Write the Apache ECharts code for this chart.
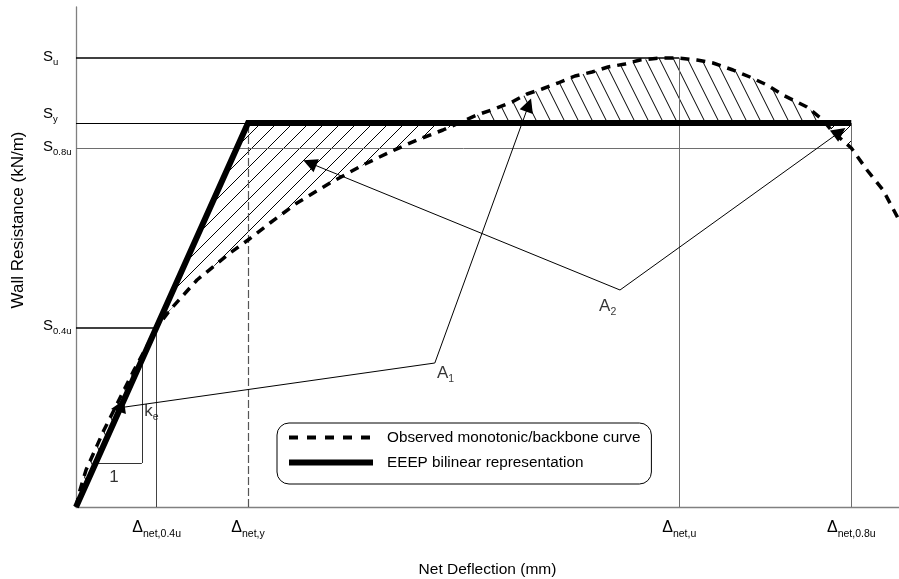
<!DOCTYPE html>
<html>
<head>
<meta charset="utf-8">
<script src="https://cdn.jsdelivr.net/npm/echarts@6/dist/echarts.min.js"></script>
<style>
html, body { margin: 0; padding: 0; background: #fff; }
#chart { width: 899px; height: 579px; }
</style>
</head>
<body>
<div id="chart"></div>
<script>
var FONT = '"Liberation Sans", Arial, sans-serif';

// key points of the schematic (deflection 0-100, resistance 0-100)
var dNet04 = 9.8, dNetY = 20.9, dNetU = 73.3, dNet08 = 94.2;
var sU = 89.8, sY = 76.8, s08 = 71.8, s04 = 35.9;

// observed monotonic / backbone curve
var curveX = [0, 0.49, 1.22, 2.31, 3.40, 4.62, 5.83, 7.05, 8.38, 9.8,
  11.42, 14.70, 18.71, 20.90, 23.57, 26.85, 30.86, 34.87, 38.15, 41.43,
  44.59, 48.72, 51.15, 52.98, 54.80, 56.62, 58.57, 60.63, 62.70, 64.64,
  66.71, 68.53, 70.96, 73.3, 75.46, 77.40, 79.83, 81.89, 83.96, 85.90,
  88.82, 90.76, 91.98, 94.2, 96.11, 98.06, 100];
var curveY = [0, 3.4, 7.4, 11.4, 15.4, 19.4, 23.4, 27.4, 31.4, 35.9,
  39.4, 45.4, 50.8, 53.4, 56.8, 60.8, 64.8, 68.4, 71.0, 73.4,
  75.4, 78.4, 79.8, 81.0, 82.6, 83.6, 84.8, 86.2, 87.0, 88.0,
  88.6, 89.4, 89.8, 89.8, 89.4, 88.8, 87.4, 86.0, 84.4, 82.4,
  80.0, 77.4, 75.0, 71.8, 67.4, 63.4, 57.4];

// EEEP bilinear
var eeepX = [0, dNetY, dNet08];
var eeepY = [0, sY, sY];

// tick labels
var xTicks = [dNet04, dNetY, dNetU, dNet08];
var xTickLabels = ['{d|\u0394}{s|net,0.4u}', '{d|\u0394}{s|net,y}', '{d|\u0394}{s|net,u}', '{d|\u0394}{s|net,0.8u}'];
var yTicks = [s04, s08, sY, sU];
var yTickLabels = ['{S|S}{s|0.4u}', '{S|S}{s|0.8u}', '{S2|S}{s2|y}', '{S|S}{s|u}'];

// annotations and arrows
var noteX = [44.9, 64.6, 8.3, 4.6];
var noteY = [26.4, 39.8, 18.8, 5.6];
var noteText = ['{A|A}{s|1}', '{A|A}{s|2}', '{A|k}{s|e}', '{A|1}'];
var noteAlign = ['center', 'center', 'left', 'center'];
var arrowFrom = [[43.6, 28.8], [43.6, 28.8], [66.1, 43.4], [66.1, 43.4]];
var arrowTo = [[5.1, 19.8], [55.0, 80.4], [28.4, 68.8], [92.8, 75.0]];

// stiffness triangle
var triBaseY = 8.8, triRightX = 8.0;

var slope = sY / dNetY;

function interp(xs, ys, x) {
  for (var i = 0; i < xs.length - 1; i++) {
    if (x >= xs[i] && x <= xs[i + 1]) {
      var t = (x - xs[i]) / (xs[i + 1] - xs[i]);
      return ys[i] + t * (ys[i + 1] - ys[i]);
    }
  }
  return ys[ys.length - 1];
}

// where the curve crosses the plateau
function crossings() {
  var res = [];
  for (var i = 0; i < curveX.length - 1; i++) {
    if (curveX[i] < dNetY) continue;
    var a = curveY[i] - sY, b = curveY[i + 1] - sY;
    if ((a < 0 && b >= 0) || (a >= 0 && b < 0)) {
      res.push(curveX[i] + (curveX[i + 1] - curveX[i]) * (-a) / (b - a));
    }
  }
  return res;
}

function regionPoly(xa, xb) {
  var pts = [[xa, interp(curveX, curveY, xa)]];
  for (var i = 0; i < curveX.length; i++) {
    if (curveX[i] > xa && curveX[i] < xb) pts.push([curveX[i], curveY[i]]);
  }
  pts.push([xb, interp(curveX, curveY, xb)]);
  pts.push([xb, interp(eeepX, eeepY, xb)]);
  if (dNetY > xa && dNetY < xb) pts.push([dNetY, sY]);
  pts.push([xa, interp(eeepX, eeepY, xa)]);
  return pts;
}

function hatch(w, h, back) {
  var c = document.createElement('canvas');
  c.width = w; c.height = h;
  var g = c.getContext('2d');
  g.strokeStyle = '#000';
  g.lineWidth = 1;
  g.beginPath();
  for (var k = -1; k <= 1; k++) {
    if (back) { g.moveTo(k * w, 0); g.lineTo(k * w + w, h); }
    else { g.moveTo(k * w, h); g.lineTo(k * w + w, 0); }
  }
  g.stroke();
  return c;
}

var fwdHatch = { image: hatch(16, 16, false), repeat: 'repeat' };
var backHatch = { image: hatch(14, 28, true), repeat: 'repeat' };

var cx = crossings();
var regions = [
  { poly: regionPoly(0, dNet04), fill: backHatch },
  { poly: regionPoly(dNet04, cx[0]), fill: fwdHatch },
  { poly: regionPoly(cx[0], cx[1]), fill: backHatch },
  { poly: regionPoly(cx[1], dNet08), fill: fwdHatch }
];

var gray = '#6e6e6e';
var refLines = [
  { coords: [[0, sU], [dNetU, sU]], lineStyle: { color: '#000', width: 1.5 } },
  { coords: [[0, sY], [dNetY, sY]], lineStyle: { color: '#000', width: 1.2 } },
  { coords: [[0, s08], [dNet08, s08]], lineStyle: { color: gray, width: 1 } },
  { coords: [[0, s04], [dNet04, s04]], lineStyle: { color: '#000', width: 1.5 } },
  { coords: [[dNet04, 0], [dNet04, s04]], lineStyle: { color: '#444', width: 1 } },
  { coords: [[dNetY, 0], [dNetY, sY]], lineStyle: { color: '#555', width: 1.2, type: [8, 3] } },
  { coords: [[dNetU, 0], [dNetU, sU]], lineStyle: { color: gray, width: 1 } },
  { coords: [[dNet08, 0], [dNet08, sY]], lineStyle: { color: gray, width: 1 } },
  { coords: [[triBaseY / slope, triBaseY], [triRightX, triBaseY]], lineStyle: { color: '#333', width: 1 } },
  { coords: [[triRightX, triBaseY], [triRightX, triRightX * slope]], lineStyle: { color: '#333', width: 1 } }
];

function pickLabel(ticks, labels, v) {
  var best = 0;
  for (var i = 1; i < ticks.length; i++) {
    if (Math.abs(ticks[i] - v) < Math.abs(ticks[best] - v)) best = i;
  }
  return labels[best];
}

var chart = echarts.init(document.getElementById('chart'));

var option = {
  animation: false,
  backgroundColor: '#fff',
  textStyle: { fontFamily: FONT, color: '#000' },
  grid: { left: 76, right: 0, top: 7, bottom: 72, containLabel: false, outerBoundsMode: 'none' },
  legend: {
    orient: 'vertical',
    left: 277,
    top: 423,
    itemWidth: 84,
    itemHeight: 14,
    itemGap: 10,
    padding: [7, 11, 14, 9],
    borderColor: '#000',
    borderWidth: 1,
    borderRadius: 12,
    itemStyle: { opacity: 0 },
    textStyle: { fontFamily: FONT, fontSize: 15.3, color: '#000', padding: [0, 0, 0, 9] },
    data: [
      { name: 'Observed monotonic/backbone curve', lineStyle: { width: 4, type: [9, 9], opacity: 1 } },
      { name: 'EEEP bilinear representation', lineStyle: { width: 6, opacity: 1 } }
    ]
  },
  xAxis: {
    type: 'value',
    min: 0,
    max: 100,
    axisLine: { show: true, lineStyle: { color: '#808080', width: 1.3 } },
    axisTick: { show: false },
    splitLine: { show: false },
    axisLabel: {
      customValues: xTicks,
      margin: 13,
      color: '#000',
      formatter: function (v) { return pickLabel(xTicks, xTickLabels, v); },
      rich: {
        d: { fontFamily: FONT, fontSize: 16, color: '#000', verticalAlign: 'bottom', padding: [0, 0, 4, 0] },
        s: { fontFamily: FONT, fontSize: 10.5, color: '#000', verticalAlign: 'bottom' }
      }
    },
    name: 'Net Deflection (mm)',
    nameLocation: 'middle',
    nameGap: 55,
    nameTextStyle: { fontFamily: FONT, fontSize: 15.5, color: '#000' }
  },
  yAxis: {
    type: 'value',
    min: 0,
    max: 100,
    axisLine: { show: true, lineStyle: { color: '#808080', width: 1.3 } },
    axisTick: { show: false },
    splitLine: { show: false },
    axisLabel: {
      customValues: yTicks,
      margin: 33,
      align: 'left',
      color: '#000',
      formatter: function (v) { return pickLabel(yTicks, yTickLabels, v); },
      rich: {
        S: { fontFamily: FONT, fontSize: 15, color: '#000', verticalAlign: 'bottom', padding: [0, 0, 3, 0] },
        s: { fontFamily: FONT, fontSize: 9.5, color: '#000', verticalAlign: 'bottom' },
        S2: { fontFamily: FONT, fontSize: 15, color: '#000', verticalAlign: 'bottom', padding: [0, 0, 19, 0] },
        s2: { fontFamily: FONT, fontSize: 9.5, color: '#000', verticalAlign: 'bottom', padding: [0, 0, 16, 0] }
      }
    },
    name: 'Wall Resistance (kN/m)',
    nameLocation: 'middle',
    nameGap: 49,
    nameTextStyle: { fontFamily: FONT, fontSize: 17, color: '#000', padding: [0, 0, 0, 74] }
  },
  series: [
    {
      type: 'custom',
      coordinateSystem: 'cartesian2d',
      silent: true,
      z: 1,
      data: regions.map(function (r) { return r.poly[0]; }),
      renderItem: function (params, api) {
        var r = regions[params.dataIndex];
        return {
          type: 'polygon',
          shape: { points: r.poly.map(function (p) { return api.coord(p); }) },
          style: { fill: r.fill, stroke: null }
        };
      }
    },
    {
      type: 'lines',
      coordinateSystem: 'cartesian2d',
      silent: true,
      z: 2,
      symbol: 'none',
      lineStyle: { opacity: 1 },
      data: refLines
    },
    {
      name: 'Observed monotonic/backbone curve',
      type: 'line',
      z: 4,
      symbol: 'none',
      data: curveX.map(function (x, i) { return [x, curveY[i]]; }),
      lineStyle: { color: '#000', width: 3.5, type: [9, 7] },
      itemStyle: { color: '#000' }
    },
    {
      name: 'EEEP bilinear representation',
      type: 'line',
      z: 5,
      symbol: 'none',
      data: eeepX.map(function (x, i) { return [x, eeepY[i]]; }),
      lineStyle: { color: '#000', width: 6, join: 'miter' },
      itemStyle: { color: '#000' }
    },
    {
      type: 'lines',
      coordinateSystem: 'cartesian2d',
      silent: true,
      z: 6,
      symbol: ['none', 'triangle'],
      symbolSize: 14,
      lineStyle: { color: '#000', width: 1, opacity: 1 },
      data: arrowFrom.map(function (p, i) { return { coords: [p, arrowTo[i]] }; })
    },
    {
      type: 'scatter',
      silent: true,
      z: 7,
      symbolSize: 0,
      data: noteX.map(function (x, i) {
        return {
          value: [x, noteY[i]],
          label: { formatter: noteText[i], align: noteAlign[i] }
        };
      }),
      label: {
        show: true,
        position: [0, 0],
        verticalAlign: 'middle',
        rich: {
          A: { fontFamily: FONT, fontSize: 17, color: '#000', verticalAlign: 'bottom', padding: [0, 0, 3, 0] },
          s: { fontFamily: FONT, fontSize: 10.5, color: '#000', verticalAlign: 'bottom' }
        }
      }
    }
  ]
};

chart.setOption(option);
</script>
</body>
</html>
